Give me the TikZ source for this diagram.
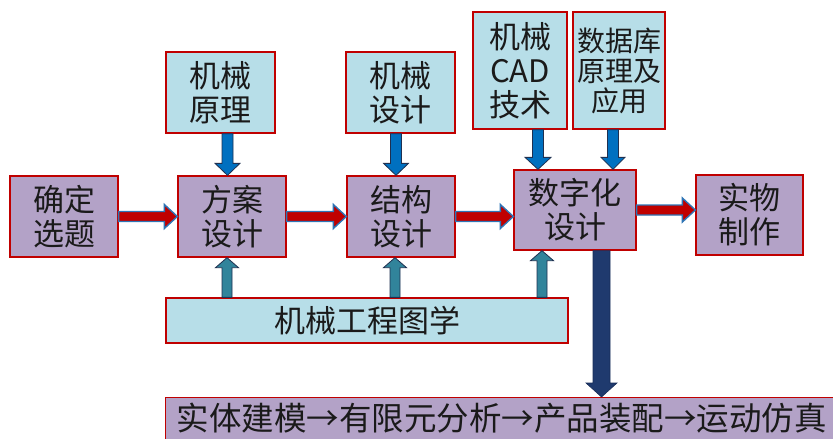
\documentclass[tikz,border=0pt]{standalone}
\usepackage{fontspec}
\newfontfamily\cjk{Noto Sans CJK SC}
\usetikzlibrary{calc}
\definecolor{boxred}{HTML}{C00000}
\definecolor{lav}{HTML}{B3A2C7}
\definecolor{aqua}{HTML}{B7DEE8}
\definecolor{arrred}{HTML}{C00000}
\definecolor{arrblue}{HTML}{2E75B6}
\definecolor{downblue}{HTML}{0070C0}
\definecolor{tealup}{HTML}{31849B}
\definecolor{navy}{HTML}{1F3A6E}
\definecolor{outl}{HTML}{1F3050}
\definecolor{txt}{HTML}{1A1A1A}
% right-pointing block arrow from east of #2 to west of #3, at the height of #2
\newcommand\hblock[6]{%
  \path[#1] let \p1=(#2.east), \p2=(#3.west) in
    (\x1,\y1+#4) -- (\x2-#6,\y1+#4) -- (\x2-#6,\y1+#5) -- (\x2,\y1)
    -- (\x2-#6,\y1-#5) -- (\x2-#6,\y1-#4) -- (\x1,\y1-#4) -- cycle;}
% downward block arrow at x=#2 from south of #3 to north of #4
\newcommand\dblock[7]{%
  \path[#1] let \p1=(#2,0), \p2=(#3.south), \p3=(#4.north) in
    (\x1-#5,\y2) -- (\x1-#5,\y3+#7) -- (\x1-#6,\y3+#7) -- (\x1,\y3)
    -- (\x1+#6,\y3+#7) -- (\x1+#5,\y3+#7) -- (\x1+#5,\y2) -- cycle;}
% upward block arrow at x=#2 from north of #3 to south of #4
\newcommand\ublock[7]{%
  \path[#1] let \p1=(#2,0), \p2=(#3.north), \p3=(#4.south) in
    (\x1-#5,\y2) -- (\x1-#5,\y3-#7) -- (\x1-#6,\y3-#7) -- (\x1,\y3)
    -- (\x1+#6,\y3-#7) -- (\x1+#5,\y3-#7) -- (\x1+#5,\y2) -- cycle;}
\begin{document}
\begin{tikzpicture}[x=1pt,y=-1pt,
  box/.style={draw=boxred, line width=1.3pt, inner sep=0pt, align=center,
    text=txt, font=\cjk\fontsize{31}{34}\selectfont},
  pbox/.style={box, fill=lav},
  bbox/.style={box, fill=aqua},
  harr/.style={draw=arrblue, fill=arrred, line width=1.4pt, line join=miter},
  darr/.style={draw=outl, fill=downblue, line width=0.8pt},
  uarr/.style={draw=outl, fill=tealup, line width=0.8pt},
  bigarr/.style={draw=navy!80!black, fill=navy, line width=0.6pt}]
\useasboundingbox (0,0) rectangle (833,439);
\clip (0,0) rectangle (833,439);
% main row
\node[pbox, minimum width=108pt, minimum height=81pt] (sel) at (64,216.5) {确定\\选题};
\node[pbox, minimum width=108pt, minimum height=81pt] (fa) at (232,216.5) {方案\\设计};
\node[pbox, minimum width=108pt, minimum height=81pt] (jg) at (401,216.5) {结构\\设计};
\node[pbox, minimum width=122pt, minimum height=80pt] (sz) at (575,210) {数字化\\设计};
\node[pbox, minimum width=107pt, minimum height=80pt] (sw) at (749.5,215) {实物\\制作};
% top boxes
\node[bbox, minimum width=109pt, minimum height=81pt] (yl) at (220.5,92.5) {机械\\原理};
\node[bbox, minimum width=109pt, minimum height=81pt] (sj) at (400.5,92.5) {机械\\设计};
\node[bbox, minimum width=94pt, minimum height=117pt] (cad) at (520,70.5) {机械\\CAD\\技术};
\node[bbox, minimum width=92pt, minimum height=117pt,
  font=\cjk\fontsize{28}{30}\selectfont] (db) at (619,70.5) {数据库\\原理及\\应用};
% lower boxes
\node[bbox, minimum width=402pt, minimum height=45pt] (tx) at (367,320.5) {机械工程图学};
\node[pbox, anchor=north west, inner xsep=11pt, inner ysep=0pt,
  text height=33pt, text depth=30pt,
  font=\cjk\fontsize{32.5}{34}\selectfont] (chain) at (165,397)
  {实体建模→有限元分析→产品装配→运动仿真};
% horizontal arrows
\hblock{harr}{sel}{fa}{5pt}{12pt}{13pt}
\hblock{harr}{fa}{jg}{5pt}{12pt}{13pt}
\hblock{harr}{jg}{sz}{5pt}{12pt}{13pt}
\hblock{harr}{sz}{sw}{5pt}{12pt}{13pt}
% down arrows from the top boxes
\dblock{darr}{227.5}{yl}{fa}{5.5pt}{12.5pt}{12pt}
\dblock{darr}{396}{sj}{jg}{5.5pt}{12.5pt}{12pt}
\dblock{darr}{538}{cad}{sz}{5.5pt}{13pt}{12pt}
\dblock{darr}{613}{db}{sz}{5.5pt}{12pt}{12pt}
% up arrows from 机械工程图学
\ublock{uarr}{227}{tx}{fa}{5pt}{11.5pt}{10pt}
\ublock{uarr}{395}{tx}{jg}{5pt}{11.5pt}{10pt}
\ublock{uarr}{542}{tx}{sz}{5pt}{11.5pt}{10pt}
% big arrow to the chain
\dblock{bigarr}{601.5}{sz}{chain}{8.5pt}{15.5pt}{14pt}
\end{tikzpicture}
\end{document}
